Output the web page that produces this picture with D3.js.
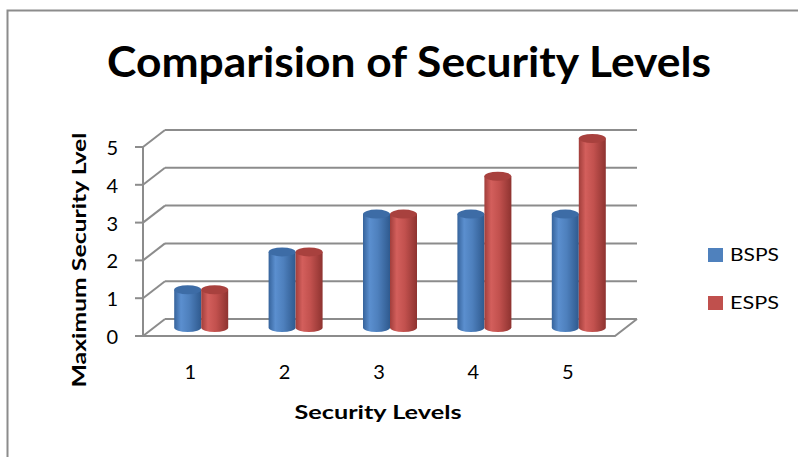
<!DOCTYPE html>
<html>
<head>
<meta charset="utf-8">
<script src="https://cdn.jsdelivr.net/npm/d3@7/dist/d3.min.js"></script>
<style>
  html, body { margin: 0; padding: 0; background: #fff; }
  svg { display: block; font-family: Lato, "Open Sans", sans-serif; }
</style>
</head>
<body>
<svg id="chart" width="798" height="457"></svg>
<script>
// Data
const categories = ["1", "2", "3", "4", "5"];
const seriesNames = ["BSPS", "ESPS"];
const bspsValues = [1, 2, 3, 3, 3];
const espsValues = [1, 2, 3, 4, 5];
const yTicks = [0, 1, 2, 3, 4, 5];

const series = [
  { name: seriesNames[0], values: bspsValues, base: "#4F81BD" },
  { name: seriesNames[1], values: espsValues, base: "#C0504D" }
];

const svg = d3.select("#chart");

// Outer frame
svg.append("path")
  .attr("d", "M7.5,457 L7.5,10.5 L798,10.5")
  .attr("fill", "none").attr("stroke", "#8c8c8c").attr("stroke-width", 2);

// Gradients for cylinders
const defs = svg.append("defs");
const grads = [
  { id: "g0", stops: [["0%", "#36639b"], ["25%", "#5b8fcf"], ["55%", "#4e80bd"], ["100%", "#2f5a8f"]] },
  { id: "g1", stops: [["0%", "#a13e3b"], ["25%", "#d35f5c"], ["55%", "#c2514e"], ["100%", "#8e3330"]] }
];
grads.forEach(g => {
  const lg = defs.append("linearGradient").attr("id", g.id).attr("x1", "0").attr("x2", "1").attr("y1", "0").attr("y2", "0");
  g.stops.forEach(s => lg.append("stop").attr("offset", s[0]).attr("stop-color", s[1]));
});
const topColors = ["#3d6ca6", "#a8413e"];

// Scales (front plane) and depth offset
const x = d3.scaleBand().domain(categories).range([143, 615]);
const y = d3.scaleLinear().domain([0, 5]).range([336, 147]);
const depth = { dx: 22, dy: -17 };
const xs = d3.scaleBand().domain(seriesNames).range([-27, 27]);

const gridColor = "#8c8c8c";
const grid = svg.append("g").attr("fill", "none").attr("stroke", gridColor).attr("stroke-width", 2);

// Back wall gridlines and side diagonals
yTicks.forEach(t => {
  const yf = y(t);
  grid.append("line")
    .attr("x1", x.range()[0] + depth.dx).attr("x2", x.range()[1] + depth.dx)
    .attr("y1", yf + depth.dy).attr("y2", yf + depth.dy);
  grid.append("line")
    .attr("x1", x.range()[0]).attr("y1", yf)
    .attr("x2", x.range()[0] + depth.dx).attr("y2", yf + depth.dy);
  grid.append("line")
    .attr("x1", x.range()[0] - 8).attr("x2", x.range()[0])
    .attr("y1", yf).attr("y2", yf);
});
// Front vertical axis
grid.append("line")
  .attr("x1", x.range()[0]).attr("x2", x.range()[0])
  .attr("y1", y(5)).attr("y2", y(0));
// Floor front edge and right edge
grid.append("path")
  .attr("d", `M${x.range()[0]},${y(0)} L${x.range()[1]},${y(0)} L${x.range()[1] + depth.dx},${y(0) + depth.dy}`);

// Cylinders, drawn at mid depth
const rx = 13.5, ry = 4.5;
const bars = svg.append("g");
categories.forEach((c, i) => {
  series.forEach((s, si) => {
    const cx = x(c) + x.bandwidth() / 2 + xs(s.name) + xs.bandwidth() / 2 + depth.dx / 2;
    const yb = y(0) + depth.dy / 2;
    const yt = y(s.values[i]) + depth.dy / 2;
    const g = bars.append("g");
    g.append("path")
      .attr("d", `M${cx - rx},${yt} L${cx - rx},${yb} A${rx},${ry} 0 0 0 ${cx + rx},${yb} L${cx + rx},${yt} Z`)
      .attr("fill", `url(#g${si})`);
    g.append("ellipse")
      .attr("cx", cx).attr("cy", yt).attr("rx", rx).attr("ry", ry)
      .attr("fill", topColors[si]);
  });
});

// Y tick labels
svg.append("g").selectAll("text").data(yTicks).join("text")
  .attr("x", 118).attr("y", d => y(d) + 1)
  .attr("dy", "0.35em").attr("text-anchor", "end")
  .attr("font-size", 20).attr("fill", "#000")
  .text(d => d);

// X tick labels
svg.append("g").selectAll("text").data(categories).join("text")
  .attr("x", d => x(d) + x.bandwidth() / 2).attr("y", 372)
  .attr("dy", "0.35em").attr("text-anchor", "middle")
  .attr("font-size", 20).attr("fill", "#000")
  .text(d => d);

// Title
svg.append("text")
  .attr("x", 409).attr("y", 77).attr("text-anchor", "middle")
  .attr("font-size", 42).attr("font-weight", "bold")
  .attr("textLength", 604).attr("lengthAdjust", "spacingAndGlyphs")
  .text("Comparision of Security Levels");

// Axis titles
svg.append("text")
  .attr("x", 378).attr("y", 419).attr("text-anchor", "middle")
  .attr("font-size", 18).attr("font-weight", "bold")
  .attr("textLength", 167).attr("lengthAdjust", "spacingAndGlyphs")
  .text("Security Levels");
svg.append("text")
  .attr("transform", "translate(86,260) rotate(-90)")
  .attr("text-anchor", "middle")
  .attr("font-size", 18).attr("font-weight", "bold")
  .attr("textLength", 255).attr("lengthAdjust", "spacingAndGlyphs")
  .text("Maximum Security Lvel");

// Legend
const legend = svg.append("g").selectAll("g").data(series).join("g")
  .attr("transform", (d, i) => `translate(708,${248 + i * 48})`);
legend.append("rect").attr("width", 15).attr("height", 14).attr("fill", d => d.base);
legend.append("text").attr("x", 22).attr("y", 7).attr("dy", "0.35em")
  .attr("font-size", 18)
  .attr("textLength", 49).attr("lengthAdjust", "spacingAndGlyphs")
  .text(d => d.name);
</script>
</body>
</html>
